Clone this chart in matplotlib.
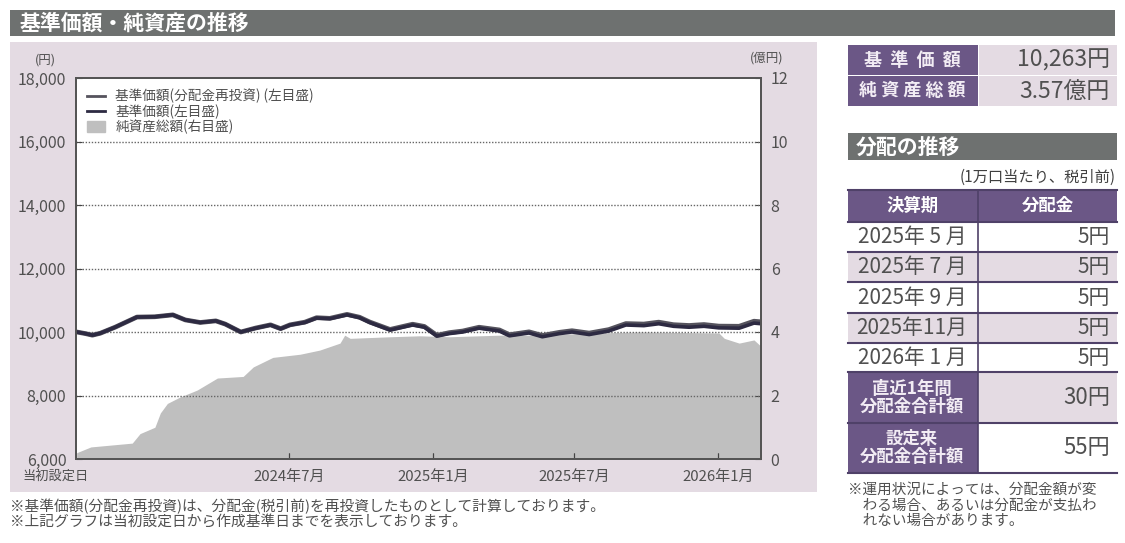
import matplotlib.pyplot as plt
import matplotlib.transforms as mtransforms
import pandas as pd
from matplotlib.patches import Rectangle
from matplotlib.lines import Line2D

plt.rcParams['font.family'] = ['Noto Sans CJK JP', 'DejaVu Sans']

# 基準価額 (円)
price_dates = ['2023-10-03', '2023-10-14', '2023-10-23', '2023-11-02', '2023-11-21',
               '2023-12-19', '2024-01-11', '2024-02-03', '2024-02-19', '2024-03-09',
               '2024-03-29', '2024-04-10', '2024-04-30', '2024-05-19', '2024-06-07',
               '2024-06-20', '2024-07-02', '2024-07-21', '2024-08-05', '2024-08-22',
               '2024-09-13', '2024-09-29', '2024-10-12', '2024-11-07', '2024-12-06',
               '2024-12-21', '2025-01-06', '2025-01-22', '2025-02-08', '2025-03-01',
               '2025-03-27', '2025-04-09', '2025-05-04', '2025-05-21', '2025-06-12',
               '2025-06-28', '2025-07-20', '2025-08-14', '2025-09-05', '2025-09-28',
               '2025-10-17', '2025-11-05', '2025-11-25', '2025-12-14', '2026-01-02',
               '2026-01-28', '2026-02-16', '2026-02-24']
price = [10000, 9950, 9900, 9960, 10150, 10470, 10480, 10540, 10380, 10300,
         10350, 10250, 10000, 10120, 10220, 10100, 10220, 10300, 10440, 10420,
         10540, 10450, 10300, 10060, 10220, 10150, 9870, 9950, 10000, 10120,
         10030, 9880, 9970, 9850, 9950, 10000, 9920, 10030, 10220, 10200,
         10260, 10180, 10150, 10180, 10130, 10120, 10280, 10263]
price_reinv = [10000, 9950, 9900, 9960, 10150, 10470, 10480, 10540, 10380, 10300,
               10350, 10250, 10000, 10125, 10225, 10105, 10225, 10310, 10450, 10430,
               10555, 10465, 10315, 10080, 10245, 10175, 9895, 9980, 10030, 10150,
               10065, 9915, 10005, 9890, 9990, 10040, 9965, 10075, 10265, 10250,
               10310, 10230, 10205, 10235, 10185, 10180, 10340, 10323]

# 純資産総額 (億円)
nav_dates = ['2023-10-03', '2023-10-21', '2023-12-13', '2023-12-23', '2024-01-11',
             '2024-01-18', '2024-01-27', '2024-02-12', '2024-03-05', '2024-03-31',
             '2024-05-03', '2024-05-16', '2024-06-10', '2024-07-15', '2024-08-09',
             '2024-09-04', '2024-09-10', '2024-09-17', '2024-11-07', '2024-12-15',
             '2025-01-22', '2025-03-27', '2025-05-04', '2025-08-02', '2025-09-22',
             '2026-01-02', '2026-01-09', '2026-01-28', '2026-02-16', '2026-02-24']
nav = [0.2, 0.38, 0.5, 0.8, 1.0, 1.45, 1.75, 1.95, 2.17, 2.55,
       2.6, 2.9, 3.2, 3.3, 3.43, 3.65, 3.9, 3.8, 3.85, 3.88,
       3.85, 3.9, 3.9, 3.97, 4.0, 3.97, 3.8, 3.65, 3.75, 3.57]

xtick_dates = ['2023-10-02', '2024-07-01', '2025-01-01', '2025-07-01', '2026-01-01']
xtick_labels = ['当初設定日', '2024年7月', '2025年1月', '2025年7月', '2026年1月']

summary_labels = ['基  準  価  額', '純 資 産 総 額']
summary_values = ['10,263円', '3.57億円']
dist_periods = ['2025年 5 月', '2025年 7 月', '2025年 9 月', '2025年11月', '2026年 1 月']
dist_amounts = ['5円', '5円', '5円', '5円', '5円']
total_labels = ['直近1年間\n分配金合計額', '設定来\n分配金合計額']
total_values = ['30円', '55円']

GRAY_BAR = '#6e7170'
PANEL = '#e4dbe3'
PURPLE = '#6b5786'
DIV = '#4f4168'
TXT = '#505050'

fig = plt.figure(figsize=(11.25, 5.43), dpi=100)

# background / layout in pixel coordinates
bg = fig.add_axes([0, 0, 1, 1], zorder=0)
bg.set_xlim(0, 1125)
bg.set_ylim(543, 0)
bg.axis('off')

bg.add_patch(Rectangle((10, 10), 1105, 26, color=GRAY_BAR, lw=0))
bg.text(20, 23, '基準価額・純資産の推移', color='white', fontsize=15,
        fontweight='bold', va='center', ha='left')
bg.add_patch(Rectangle((10, 42), 807, 450, color=PANEL, lw=0))
bg.text(45, 60, '(円)', fontsize=9, color=TXT, ha='center', va='center')
bg.text(767, 58, '(億円)', fontsize=9, color=TXT, ha='center', va='center')

# 基準価額 / 純資産総額 table
for i, (lab, val) in enumerate(zip(summary_labels, summary_values)):
    y0 = 45 + i * 31
    bg.add_patch(Rectangle((848, y0), 130, 30, color=PURPLE, lw=0))
    bg.add_patch(Rectangle((979, y0), 138, 30, color=PANEL, lw=0))
    bg.text(912, y0 + 15, lab, color='#f2ecf4', fontsize=13, fontweight='bold',
            ha='center', va='center')
    bg.text(1110, y0 + 15, val, color=TXT, fontsize=16.5, ha='right', va='center')

# 分配の推移
bg.add_patch(Rectangle((848, 133), 269, 27, color=GRAY_BAR, lw=0))
bg.text(856, 147, '分配の推移', color='white', fontsize=15, fontweight='bold',
        ha='left', va='center')
bg.text(1116, 177, '(1万口当たり、税引前)', color='#404040', fontsize=11,
        ha='right', va='center')
bg.add_patch(Rectangle((848, 190), 269, 32, color=PURPLE, lw=0))
bg.text(913, 206, '決算期', color='white', fontsize=12.5, fontweight='bold',
        ha='center', va='center')
bg.text(1048, 206, '分配金', color='white', fontsize=12.5, fontweight='bold',
        ha='center', va='center')

row_edges = [222, 252, 282, 313, 343, 372]
for i, (per, amt) in enumerate(zip(dist_periods, dist_amounts)):
    y0, y1 = row_edges[i], row_edges[i + 1]
    fc = PANEL if i % 2 == 1 else 'white'
    bg.add_patch(Rectangle((848, y0), 269, y1 - y0, color=fc, lw=0))
    bg.text(912, (y0 + y1) / 2, per, color=TXT, fontsize=15, ha='center', va='center')
    bg.text(1110, (y0 + y1) / 2, amt, color=TXT, fontsize=15, ha='right', va='center')

total_edges = [372, 423, 473]
for i, (lab, val) in enumerate(zip(total_labels, total_values)):
    y0, y1 = total_edges[i], total_edges[i + 1]
    bg.add_patch(Rectangle((848, y0), 130, y1 - y0, color=PURPLE, lw=0))
    bg.add_patch(Rectangle((978, y0), 139, y1 - y0,
                           color=PANEL if i == 0 else 'white', lw=0))
    bg.text(912, (y0 + y1) / 2, lab, color='#f2ecf4', fontsize=12.5, fontweight='bold',
            ha='center', va='center', linespacing=1.0)
    bg.text(1110, (y0 + y1) / 2, val, color=TXT, fontsize=16, ha='right', va='center')

for y in [190] + row_edges + total_edges[1:]:
    bg.plot([848, 1117], [y, y], color=DIV, lw=1.5)
bg.plot([978, 978], [190, 473], color=DIV, lw=1.2)

bg.text(848, 483, '※運用状況によっては、分配金額が変\n　わる場合、あるいは分配金が支払わ\n　れない場合があります。',
        color=TXT, fontsize=10.5, ha='left', va='top', linespacing=1.15)
bg.text(10, 506, '※基準価額(分配金再投資)は、分配金(税引前)を再投資したものとして計算しております。',
        color=TXT, fontsize=10.6, ha='left', va='center')
bg.text(10, 523, '※上記グラフは当初設定日から作成基準日までを表示しております。',
        color=TXT, fontsize=10.6, ha='left', va='center')

# chart
pos = [76 / 1125, 1 - 459 / 543, (761 - 76) / 1125, (459 - 78) / 543]
ax2 = fig.add_axes(pos, zorder=2)
ax = fig.add_axes(pos, zorder=3, sharex=ax2)
ax.patch.set_visible(False)
ax2.set_facecolor('white')

nd = pd.to_datetime(nav_dates)
pdt = pd.to_datetime(price_dates)
ax2.fill_between(nd, nav, 0, color='#bfbfbf', lw=0)
ax2.set_ylim(0, 12)
ax2.yaxis.tick_right()
ax2.set_yticks(range(0, 13, 2))

ax.plot(pdt, price_reinv, color='#55535d', lw=3.4, solid_joinstyle='round')
ax.plot(pdt, price, color='#2d2a42', lw=2.6, solid_joinstyle='round')
ax.set_ylim(6000, 18000)
ax.set_yticks(range(6000, 18001, 2000))
ax.yaxis.set_major_formatter(plt.FuncFormatter(lambda v, p: f'{int(v):,}'))
ax.set_xlim(pd.Timestamp('2023-10-02'), pd.Timestamp('2026-02-25'))
ax.set_xticks(pd.to_datetime(xtick_dates))
ax.set_xticklabels(xtick_labels)
for y in range(8000, 17000, 2000):
    ax.axhline(y, color='#666666', lw=1.0, ls=(0, (1, 1.2)), zorder=1.5)

for a in (ax, ax2):
    for s in a.spines.values():
        s.set_color('#555555')
        s.set_linewidth(1.4)
    a.tick_params(direction='in', length=4, color='#444444', labelsize=11.5,
                  labelcolor=TXT, pad=7)
ax2.tick_params(axis='x', labelbottom=False)
ax.tick_params(axis='x', pad=8, labelsize=10.8)

lbls = ax.get_xticklabels()
lbls[0].set_transform(lbls[0].get_transform() +
                      mtransforms.ScaledTranslation(-0.2, 0, fig.dpi_scale_trans))
lbls[0].set_fontsize(9.5)
ax.get_xticklines()[0].set_visible(False)

handles = [Line2D([], [], color='#55535d', lw=2),
           Line2D([], [], color='#2d2a42', lw=2),
           Rectangle((0, 0), 1, 1, color='#bfbfbf')]
ax.legend(handles, ['基準価額(分配金再投資) (左目盛)', '基準価額(左目盛)', '純資産総額(右目盛)'],
          loc='upper left', bbox_to_anchor=(0.0, 1.0), frameon=False, fontsize=9.8,
          handlelength=1.3, handleheight=0.8, labelspacing=0.05, borderaxespad=0.4,
          labelcolor=TXT)

fig.savefig('out.png', dpi=100)
